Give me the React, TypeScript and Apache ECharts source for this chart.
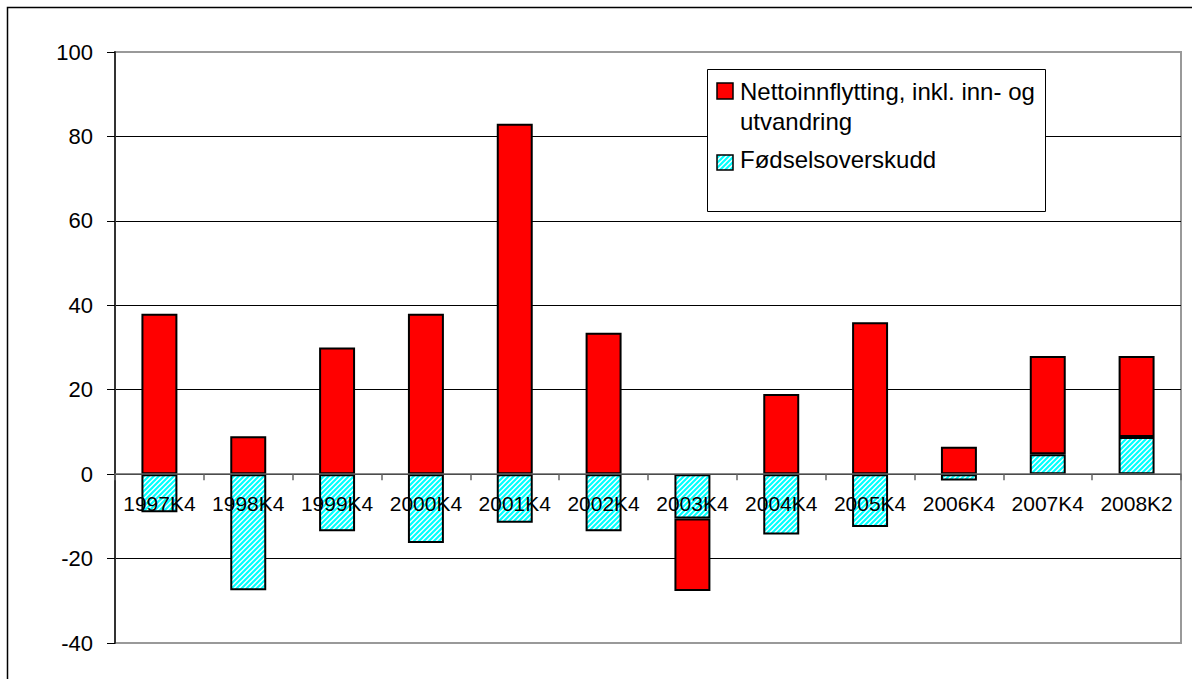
import React, { useEffect, useRef } from 'react';
import * as echarts from 'echarts';

const categories = ['1997K4', '1998K4', '1999K4', '2000K4', '2001K4', '2002K4', '2003K4', '2004K4', '2005K4', '2006K4', '2007K4', '2008K2'];
const nettoinnflytting = [38, 9, 30, 38, 83, 33.5, -17.2, 19, 36, 6.5, 23.3, 19.2];
const fodselsoverskudd = [-9, -27.5, -13.5, -16.3, -11.5, -13.5, -10.5, -14.3, -12.5, -1.5, 4.7, 8.8];
const yMin = -40;
const yMax = 100;
const yInterval = 20;
const legendLine1 = 'Nettoinnflytting, inkl. inn- og';
const legendLine2 = 'utvandring';
const nameNetto = 'Nettoinnflytting, inkl. inn- og utvandring';
const nameFodsel = 'Fødselsoverskudd';

const FONT = '"Liberation Sans", Arial, sans-serif';
const GRID = { left: 115, right: 11, top: 52, bottom: 36 };
const H = 679;

function makeHatch(): HTMLCanvasElement {
  const c = document.createElement('canvas');
  c.width = 5;
  c.height = 5;
  const g = c.getContext('2d')!;
  g.fillStyle = '#ffffff';
  g.fillRect(0, 0, 5, 5);
  g.strokeStyle = '#00ffff';
  g.lineWidth = 2.2;
  g.beginPath();
  g.moveTo(-1, 6);
  g.lineTo(6, -1);
  g.moveTo(-1, 1);
  g.lineTo(1, -1);
  g.moveTo(4, 6);
  g.lineTo(6, 4);
  g.stroke();
  return c;
}

export default function App() {
  const ref = useRef<HTMLDivElement>(null);
  useEffect(() => {
    if (!ref.current) return;
    const chart = echarts.init(ref.current, null, { renderer: 'svg' });
    const hatch = { image: makeHatch(), repeat: 'repeat' } as any;
    const nSplit = Math.round((yMax - yMin) / yInterval) + 1;
    const splitColors: string[] = [];
    for (let i = 0; i < nSplit; i++) {
      splitColors.push(i === 0 || i === nSplit - 1 ? 'rgba(0,0,0,0)' : '#000000');
    }
    chart.setOption({
      animation: false,
      backgroundColor: '#ffffff',
      textStyle: { fontFamily: FONT },
      grid: {
        ...GRID,
        containLabel: false,
        outerBoundsMode: 'none',
        show: true,
        borderColor: '#999999',
        borderWidth: 2,
        backgroundColor: 'transparent',
      },
      xAxis: {
        type: 'category',
        data: categories,
        z: 10,
        offset: 0,
        axisLine: { onZero: false, lineStyle: { color: '#666666', width: 1.5 } },
        axisTick: { show: true, length: 6, lineStyle: { color: '#666666', width: 1.5 } },
        axisLabel: { interval: 0, margin: 19, fontSize: 21, color: '#000', fontFamily: FONT },
        splitLine: { show: false },
      },
      yAxis: {
        type: 'value',
        min: yMin,
        max: yMax,
        interval: yInterval,
        axisLine: { show: true, lineStyle: { color: '#333333', width: 2 } },
        axisTick: { show: true, length: 8, lineStyle: { color: '#000', width: 1 } },
        axisLabel: { margin: 22, fontSize: 22, color: '#000', fontFamily: FONT },
        splitLine: { show: true, lineStyle: { color: splitColors, width: 1 } },
      },
      series: [
        {
          name: nameFodsel,
          type: 'bar',
          stack: 'total',
          data: fodselsoverskudd,
          barWidth: '40.5%',
          itemStyle: { color: hatch, borderColor: '#000', borderWidth: 2 },
        },
        {
          name: nameNetto,
          type: 'bar',
          stack: 'total',
          data: nettoinnflytting,
          barWidth: '40.5%',
          itemStyle: { color: '#ff0000', borderColor: '#000', borderWidth: 2 },
        },
      ],
      graphic: [
        {
          type: 'rect',
          z: 100,
          silent: true,
          shape: { x: 7.5, y: 7.5, width: 1200, height: 700 },
          style: { fill: 'none', stroke: '#000', lineWidth: 1.5 },
        },
        {
          type: 'rect',
          z: 100,
          shape: { x: 707.5, y: 69.5, width: 338, height: 142 },
          style: { fill: '#fff', stroke: '#000', lineWidth: 1 },
        },
        {
          type: 'rect',
          z: 101,
          shape: { x: 717, y: 83, width: 16, height: 16 },
          style: { fill: '#ff0000', stroke: '#000', lineWidth: 1.5 },
        },
        {
          type: 'text',
          z: 101,
          x: 740,
          y: 91,
          style: { text: legendLine1, fontSize: 24, fontFamily: FONT, fill: '#000', verticalAlign: 'middle' },
        },
        {
          type: 'text',
          z: 101,
          x: 740,
          y: 121,
          style: { text: legendLine2, fontSize: 24, fontFamily: FONT, fill: '#000', verticalAlign: 'middle' },
        },
        {
          type: 'rect',
          z: 101,
          shape: { x: 717, y: 155, width: 16, height: 15 },
          style: { fill: hatch, stroke: '#000', lineWidth: 1.5 },
        },
        {
          type: 'text',
          z: 101,
          x: 740,
          y: 159,
          style: { text: nameFodsel, fontSize: 24, fontFamily: FONT, fill: '#000', verticalAlign: 'middle' },
        },
      ],
    });
    // Move the category axis (line, ticks, labels) to the value 0, via the value axis scale.
    const y0 = chart.convertToPixel({ yAxisIndex: 0 }, 0) as number;
    const gridBottomPx = H - GRID.bottom;
    chart.setOption({ xAxis: { offset: y0 - gridBottomPx } });
    return () => chart.dispose();
  }, []);
  return <div ref={ref} style={{ position: 'absolute', left: 0, top: 0, width: 1192, height: H }} />;
}
